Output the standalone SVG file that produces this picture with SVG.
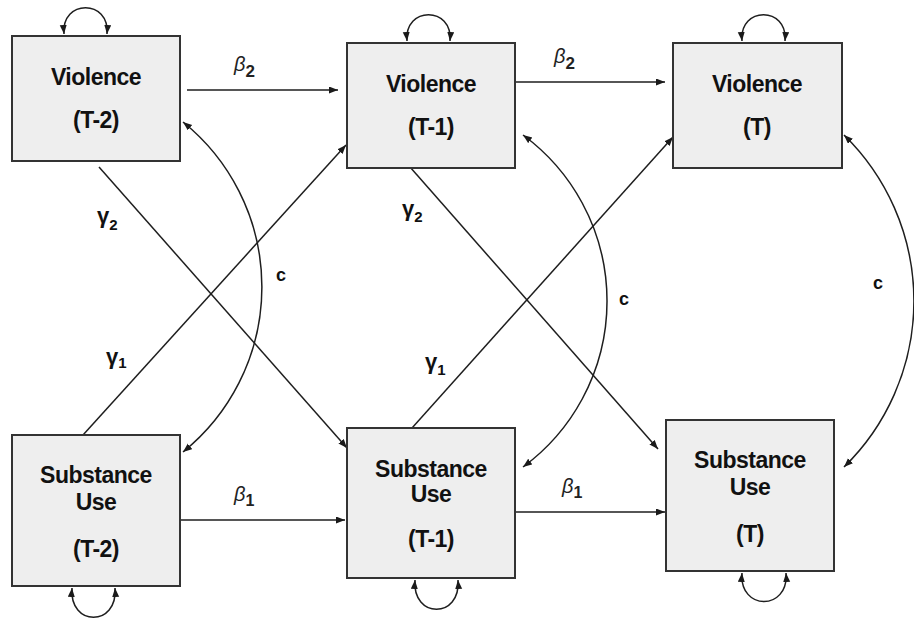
<svg xmlns="http://www.w3.org/2000/svg" width="914" height="621" viewBox="0 0 914 621">
<defs>
<marker id="ah" markerUnits="userSpaceOnUse" markerWidth="10" markerHeight="8" refX="9" refY="3.5" orient="auto-start-reverse">
<path d="M0,0 L9,3.5 L0,7 z" fill="#1a1a1a"/>
</marker>
</defs>
<style>
.box{fill:#eeeeee;stroke:#333;stroke-width:2}
.lbl{font-family:"Liberation Sans",Arial,sans-serif;font-weight:bold;font-size:23px;fill:#111;text-anchor:middle;letter-spacing:-0.5px}
.ln{fill:none;stroke:#1e1e1e;stroke-width:1.5}
.arr{marker-end:url(#ah)}
.both{marker-start:url(#ah);marker-end:url(#ah)}
.beta{font-family:"Liberation Sans",Arial,sans-serif;font-style:italic;font-size:20px;fill:#222}
.sub{font-style:normal;font-weight:bold}
.gam{font-family:"Liberation Sans","DejaVu Sans",sans-serif;font-weight:bold;font-size:22px;fill:#111}
.c{font-family:"Liberation Sans",Arial,sans-serif;font-weight:bold;font-size:18px;fill:#111}
</style>
<rect width="914" height="621" fill="#ffffff"/>
<g id="connectors">
<path class="ln both" d="M64,34 C61,-1 110,-1 107,34"/>
<path class="ln both" d="M407,41 C404,6 453,6 450,41"/>
<path class="ln both" d="M742,41 C739,6 788,6 785,41"/>
<path class="ln both" d="M72,588 C69,627 118,627 115,588"/>
<path class="ln both" d="M415,580 C412,619 461,619 458,580"/>
<path class="ln both" d="M742,573 C739,611 789,611 786,573"/>
<line class="ln arr" x1="187" y1="90" x2="338" y2="90"/>
<line class="ln arr" x1="515" y1="82" x2="665" y2="82"/>
<line class="ln arr" x1="180" y1="520" x2="345" y2="520"/>
<line class="ln arr" x1="515" y1="512" x2="665" y2="512"/>
<line class="ln arr" x1="99" y1="167" x2="347" y2="448"/>
<line class="ln arr" x1="83" y1="435" x2="346" y2="145"/>
<line class="ln arr" x1="410" y1="167" x2="658" y2="449"/>
<line class="ln arr" x1="412" y1="428" x2="673" y2="137"/>
<path class="ln both" d="M183,122 A212,212 0 0 1 183,452"/>
<path class="ln both" d="M523,135 A206,206 0 0 1 523,467"/>
<path class="ln both" d="M844,135 A232,232 0 0 1 844,467"/>
</g>
<g id="v_t2">
<rect class="box" x="12" y="36" width="168" height="125"/>
<text class="lbl" x="96" y="85">Violence</text>
<text class="lbl" x="96" y="128">(T-2)</text>
</g>
<g id="v_t1">
<rect class="box" x="347" y="43" width="168" height="125"/>
<text class="lbl" x="431" y="92">Violence</text>
<text class="lbl" x="431" y="135">(T-1)</text>
</g>
<g id="v_t">
<rect class="box" x="673" y="43" width="169" height="125"/>
<text class="lbl" x="757" y="92">Violence</text>
<text class="lbl" x="757" y="135">(T)</text>
</g>
<g id="s_t2">
<rect class="box" x="12" y="435" width="168" height="151"/>
<text class="lbl" x="96" y="483">Substance</text>
<text class="lbl" x="96" y="510">Use</text>
<text class="lbl" x="96" y="557">(T-2)</text>
</g>
<g id="s_t1">
<rect class="box" x="347" y="428" width="168" height="150"/>
<text class="lbl" x="431" y="477">Substance</text>
<text class="lbl" x="431" y="502">Use</text>
<text class="lbl" x="431" y="547">(T-1)</text>
</g>
<g id="s_t">
<rect class="box" x="666" y="420" width="168" height="151"/>
<text class="lbl" x="750" y="468">Substance</text>
<text class="lbl" x="750" y="495">Use</text>
<text class="lbl" x="750" y="542">(T)</text>
</g>
<g id="labels">
<text class="beta" x="234" y="71">β<tspan class="sub" font-size="17" dy="6">2</tspan></text>
<text class="beta" x="554" y="63">β<tspan class="sub" font-size="17" dy="6">2</tspan></text>
<text class="beta" x="234" y="501">β<tspan class="sub" font-size="16" dy="5">1</tspan></text>
<text class="beta" x="562" y="493">β<tspan class="sub" font-size="16" dy="5">1</tspan></text>
<text class="gam" x="97" y="223">γ<tspan font-size="15" dy="7">2</tspan></text>
<text class="gam" x="402" y="216">γ<tspan font-size="15" dy="6">2</tspan></text>
<text class="gam" x="106" y="364">γ<tspan font-size="15" dy="4">1</tspan></text>
<text class="gam" x="425" y="369">γ<tspan font-size="15" dy="6">1</tspan></text>
<text class="c" x="276" y="281">c</text>
<text class="c" x="619" y="305">c</text>
<text class="c" x="873" y="289">c</text>
</g>
</svg>
